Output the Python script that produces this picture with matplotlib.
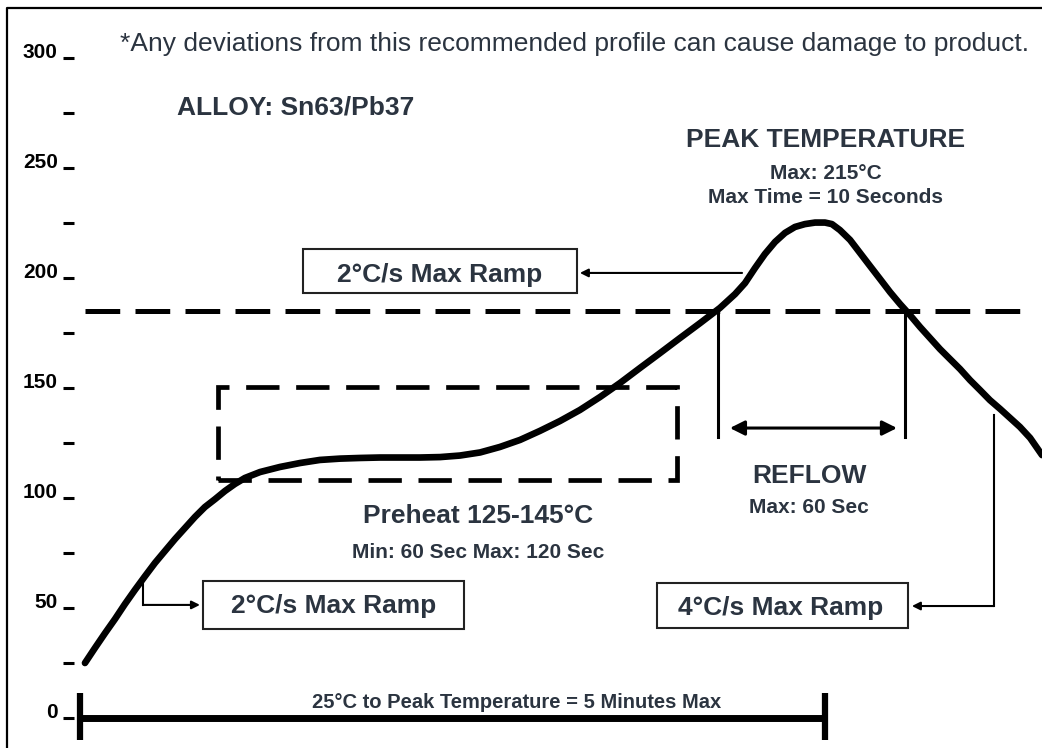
import numpy as np
import matplotlib
matplotlib.use("Agg")
import matplotlib.pyplot as plt
from matplotlib.patches import Rectangle

plt.rcParams['font.family'] = ['Liberation Sans', 'DejaVu Sans']
plt.rcParams['lines.scale_dashes'] = False

# reflow profile, time in seconds, temperature in degC
time_s = [2.0, 6.0, 10.1, 14.1, 18.1, 22.1, 26.2, 30.2, 34.2, 38.3, 42.3, 46.3,
          50.3, 54.4, 58.4, 62.4, 66.4, 72.5, 80.5, 88.6, 96.6, 104.7, 112.8,
          120.8, 128.9, 136.9, 145.0, 153.0, 161.1, 169.1, 177.2, 185.2, 193.3,
          201.3, 209.4, 217.5, 225.5, 233.6, 241.6, 249.7, 257.7, 263.8, 267.8,
          271.8, 275.8, 279.9, 283.9, 287.9, 291.9, 296.0, 300.0, 302.8, 306.0,
          310.1, 314.1, 318.1, 322.2, 326.2, 330.2, 334.2, 338.3, 342.3, 346.3,
          350.3, 354.4, 358.4, 362.4, 366.4, 370.5, 374.5, 378.5, 382.6, 387.4]
temp_c = [25.0, 31.8, 38.6, 45.0, 51.8, 58.2, 64.5, 70.5, 75.9, 81.4, 86.4, 91.4,
          95.9, 99.5, 103.2, 106.4, 109.1, 111.8, 114.1, 115.9, 117.3, 117.9, 118.2,
          118.4, 118.4, 118.4, 118.6, 119.3, 120.7, 123.2, 126.4, 130.5, 135.0,
          140.0, 145.9, 152.3, 159.1, 165.9, 172.7, 179.5, 186.4, 192.7, 197.7,
          204.5, 210.9, 216.4, 220.5, 223.2, 224.5, 225.2, 225.2, 224.5, 221.8,
          217.3, 211.4, 205.5, 199.5, 193.6, 188.2, 183.2, 177.7, 172.7, 167.7,
          163.2, 158.6, 153.6, 149.1, 144.5, 140.5, 136.4, 132.3, 127.3, 119.5]

yticks_major = [0, 50, 100, 150, 200, 250, 300]
yticks_minor = [25, 75, 125, 175, 225, 275]

liquidus = 185
preheat_t = (55.6, 240.4)
preheat_T = (108.0, 150.5)
reflow_t = (256.9, 332.2)
total_t = (0, 300)

txt = '#2b3440'

fig = plt.figure(figsize=(10.42, 7.48), dpi=100)
ax = fig.add_axes([0, 0, 1, 1])
ax.set_xlim(-80 / 2.4833, 962 / 2.4833)
ax.set_ylim(-30 / 2.2, 718 / 2.2)
ax.axis('off')

# frame (top + left)
ax.plot([0.0067, 0.0067, 1.0], [0.0, 0.9893, 0.9893], transform=ax.transAxes,
        color='black', lw=1.6, clip_on=False)

# y ticks
for v in yticks_major + yticks_minor:
    ax.plot([-6.9, -2.4], [v, v], color='black', lw=2.2, solid_capstyle='butt')
for v in yticks_major:
    ax.text(-9.0, v, str(v), ha='right', va='baseline', fontsize=15,
            fontweight='bold', color='black')

# liquidus dashed line
ax.plot([2, 378.5], [liquidus, liquidus], color='black', lw=3.6,
        linestyle=(0, (25, 11)), solid_capstyle='butt')

# preheat dashed box
ax.add_patch(Rectangle((preheat_t[0], preheat_T[0]), preheat_t[1] - preheat_t[0],
                       preheat_T[1] - preheat_T[0], fill=False, lw=3.4,
                       edgecolor='black', linestyle=(0, (24, 12))))

# profile curve
ax.plot(time_s, temp_c, color='black', lw=4.8, solid_capstyle='round',
        solid_joinstyle='round')

# reflow window
for t in reflow_t:
    ax.plot([t, t], [liquidus, 127.7], color='black', lw=2.2)
ax.annotate('', xy=(261.7, 131.8), xytext=(329.0, 131.8),
            arrowprops=dict(arrowstyle='<|-|>', color='black', lw=2.2,
                            mutation_scale=22, shrinkA=0, shrinkB=0))

# bottom bar 25C to peak
ax.plot(total_t, [0, 0], color='black', lw=5, solid_capstyle='butt')
for t in total_t:
    ax.plot([t, t], [-10, 11.4], color='black', lw=4.5, solid_capstyle='butt')

# text boxes
box_kw = dict(fill=False, lw=1.5, edgecolor='#222222')
ax.add_patch(Rectangle((89.8, 193.2), 110.3, 20.0, **box_kw))
ax.add_patch(Rectangle((49.5, 40.5), 105.1, 21.8, **box_kw))
ax.add_patch(Rectangle((232.4, 40.9), 101.0, 20.5, **box_kw))

arrow_kw = dict(arrowstyle='-|>', color='black', lw=1.5, mutation_scale=12,
                shrinkA=0, shrinkB=0)
# upper 2C/s leader
ax.annotate('', xy=(201.3, 202.3), xytext=(266.6, 202.3), arrowprops=arrow_kw)
# lower 2C/s leader
ax.plot([25.4, 25.4], [64.1, 51.4], color='black', lw=1.5)
ax.annotate('', xy=(48.3, 51.4), xytext=(25.4, 51.4), arrowprops=arrow_kw)
# 4C/s leader
ax.plot([368.0, 368.0], [137.7, 50.9], color='black', lw=1.5)
ax.annotate('', xy=(335.0, 50.9), xytext=(368.0, 50.9), arrowprops=arrow_kw)

# texts
ax.text(16.1, 303.2, '*Any deviations from this recommended profile can cause damage to product.',
        fontsize=19, color=txt, va='baseline', ha='left')
ax.text(39.1, 274.1, 'ALLOY: Sn63/Pb37', fontsize=19, fontweight='bold',
        color=txt, va='baseline', ha='left')
ax.text(300.4, 259.5, 'PEAK TEMPERATURE', fontsize=19, fontweight='bold',
        color=txt, va='baseline', ha='center')
ax.text(300.4, 245.0, 'Max: 215°C', fontsize=15, fontweight='bold',
        color=txt, va='baseline', ha='center')
ax.text(300.4, 234.1, 'Max Time = 10 Seconds', fontsize=15, fontweight='bold',
        color=txt, va='baseline', ha='center')
ax.text(293.6, 106.8, 'REFLOW', fontsize=19, fontweight='bold',
        color=txt, va='baseline', ha='center')
ax.text(293.6, 93.2, 'Max: 60 Sec', fontsize=15, fontweight='bold',
        color=txt, va='baseline', ha='center')
ax.text(160.3, 88.6, 'Preheat 125-145°C', fontsize=19, fontweight='bold',
        color=txt, va='baseline', ha='center')
ax.text(160.5, 72.7, 'Min: 60 Sec Max: 120 Sec', fontsize=15, fontweight='bold',
        color=txt, va='baseline', ha='center')
ax.text(145.0, 198.2, '2°C/s Max Ramp', fontsize=19, fontweight='bold',
        color=txt, va='baseline', ha='center')
ax.text(102.0, 47.7, '2°C/s Max Ramp', fontsize=19, fontweight='bold',
        color=txt, va='baseline', ha='center')
ax.text(282.3, 46.8, '4°C/s Max Ramp', fontsize=19, fontweight='bold',
        color=txt, va='baseline', ha='center')
ax.text(176.0, 4.5, '25°C to Peak Temperature = 5 Minutes Max', fontsize=14.5,
        fontweight='bold', color=txt, va='baseline', ha='center')

fig.savefig('out.png', dpi=100)
